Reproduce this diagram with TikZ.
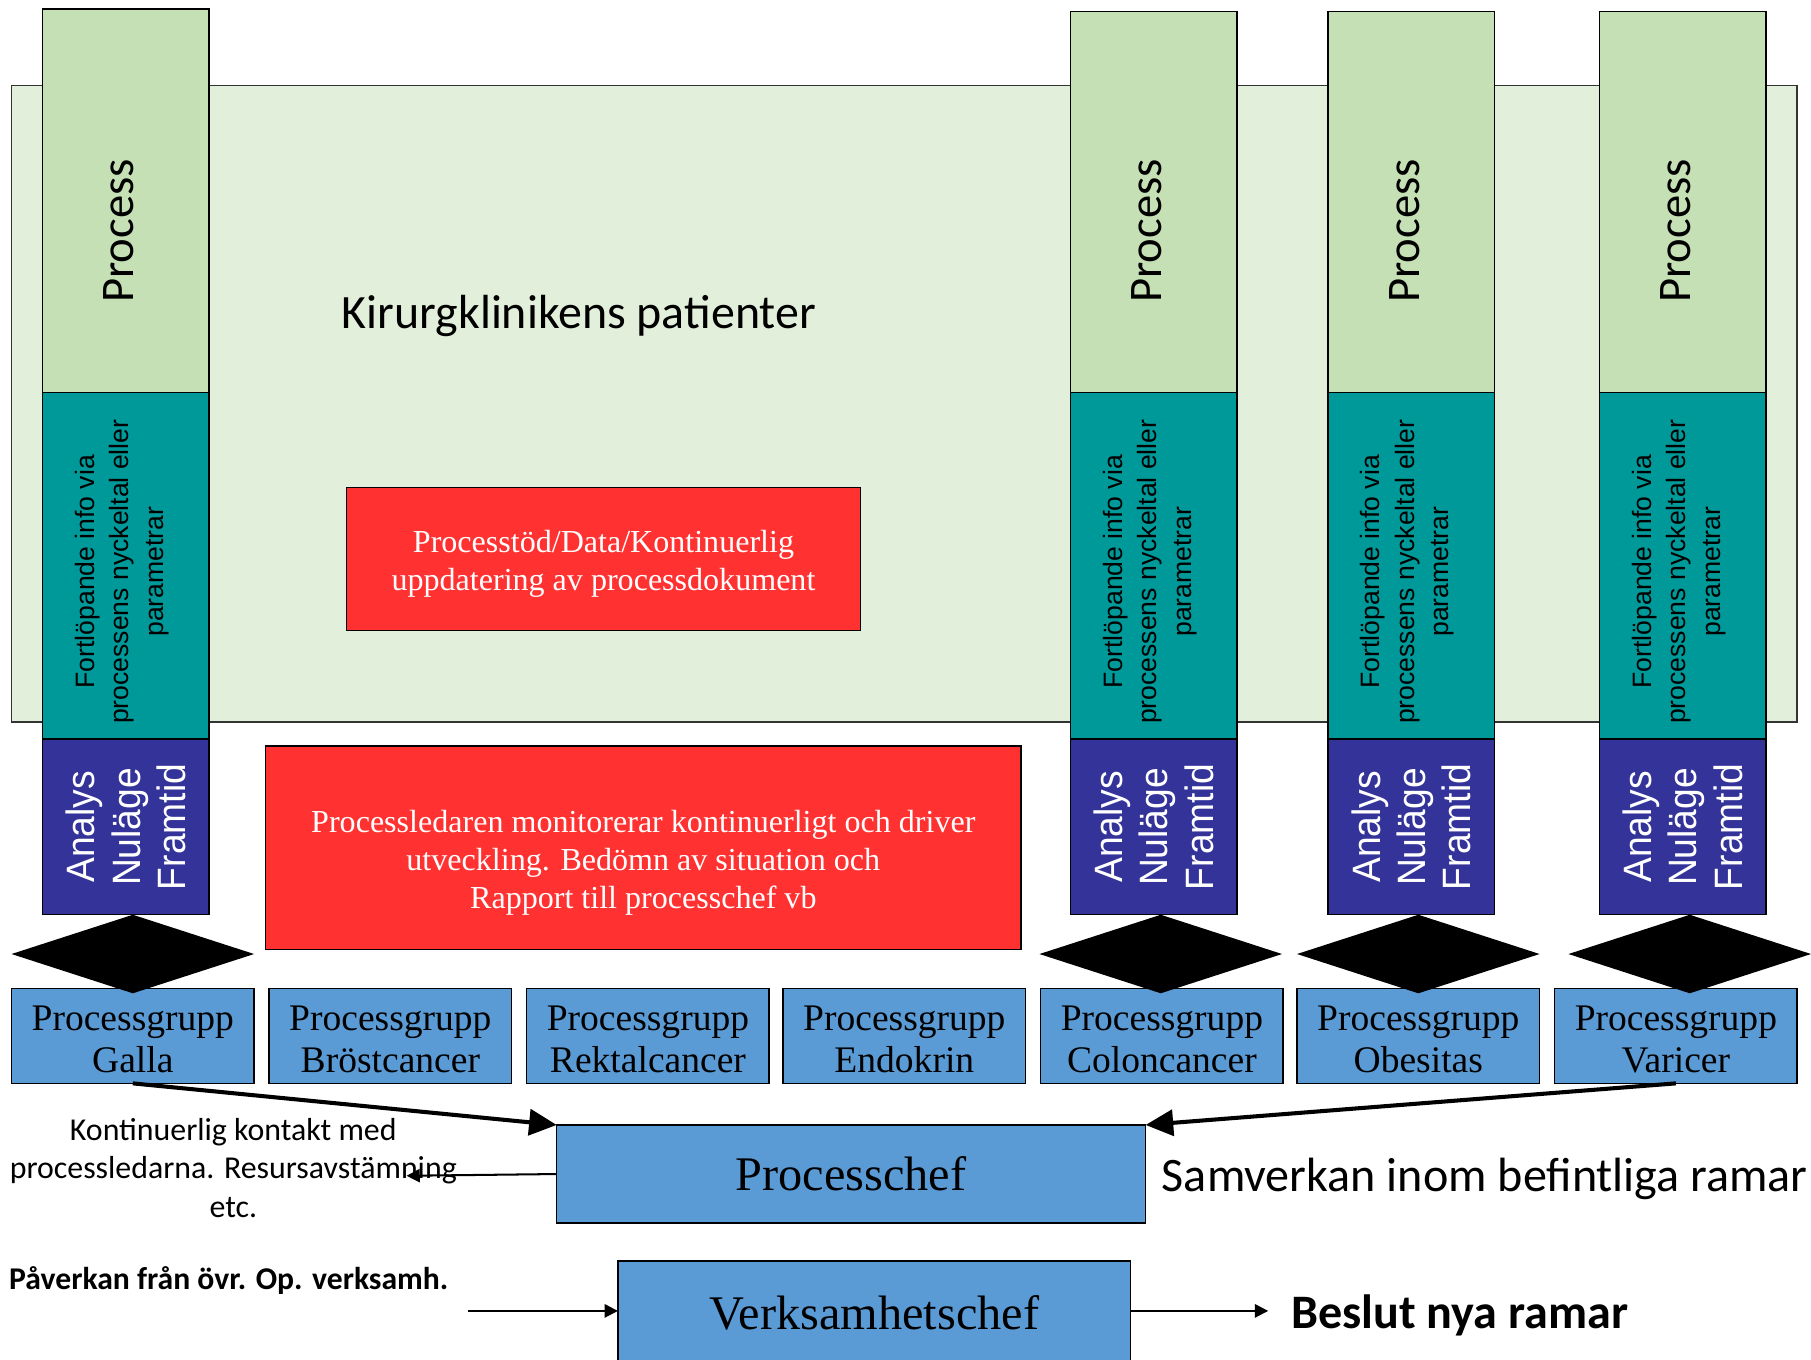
\documentclass[tikz,border=0pt]{standalone}
\usepackage{fontspec}
\setmainfont{Liberation Serif}
\newfontfamily\calfont{Carlito}
\newfontfamily\arifont{Liberation Sans}
\newfontfamily\arinarrow[FakeStretch=0.94]{Liberation Sans}
\usetikzlibrary{arrows.meta}
\definecolor{bgg}{HTML}{E2EFDA}
\definecolor{procg}{HTML}{C5E0B4}
\definecolor{tealc}{HTML}{009999}
\definecolor{navyc}{HTML}{333399}
\definecolor{redc}{HTML}{FF3131}
\definecolor{blueb}{HTML}{5B9BD5}
\begin{document}
\begin{tikzpicture}[x=0.02cm,y=-0.02cm,
  box/.style={draw=black, line width=0.75pt, inner sep=0pt, outer sep=0pt, anchor=north west},
  colw/.style={box, minimum width=2.88cm},
  grp/.style={box, fill=blueb, minimum width=4.2cm, minimum height=1.64cm},
  grptext/.style={plain, align=center, font=\fontsize{18.5}{21}\selectfont},
  redbox/.style={box, fill=redc},
  redtext/.style={plain, text=white, align=center, font=\fontsize{15.8}{18.8}\selectfont},
  chefbox/.style={box, fill=blueb, font=\fontsize{23.8}{28}\selectfont},
  proctext/.style={rotate=90, inner sep=0pt, font=\calfont\fontsize{23}{28}\selectfont},
  tealtext/.style={rotate=90, inner sep=0pt, align=center, font=\arifont\fontsize{13.1}{17}\selectfont},
  anatext/.style={rotate=90, inner sep=0pt, align=center, text=white, font=\arinarrow\fontsize{19.5}{22.2}\selectfont},
  thick arrow/.style={line width=2pt, -{Triangle[length=13.6pt,width=12.8pt]}},
  thin arrow/.style={line width=1pt, -{Triangle[length=6.5pt,width=6.5pt]}},
  plain/.style={inner sep=0pt, outer sep=0pt}
]
\useasboundingbox (0,0) rectangle (1568,1177);
\fill[white] (0,0) rectangle (1568,1177);

% background
\node[box, draw=black!80, fill=bgg, minimum width=30.92cm, minimum height=11.02cm] (bg) at (10,74) {};

% red box 1
\node[redbox, minimum width=8.9cm, minimum height=2.48cm] (red1) at (300,422) {};
\node[redtext] (red1t) at (522.5,488)
  {Processtöd/Data/Kontinuerlig\\uppdatering av processdokument};

% title
\node[plain, anchor=west, font=\calfont\fontsize{23.6}{28}\selectfont] (kir) at (296,274) {Kirurgklinikens patienter};

% columns
\foreach \x/\t/\h/\i in {37/8/6.64/1, 927/10/6.6/2, 1150/10/6.6/3, 1385/10/6.6/4}{
  \node[colw, fill=procg, minimum height=\h cm] (proc\i) at (\x,\t) {};
  \node[proctext] (proct\i) at (\x+66,200) {Process};
  \node[colw, fill=tealc, minimum height=6cm] (teal\i) at (\x,340) {};
  \node[tealtext] (tealt\i) at (\x+68.5,495) {Fortlöpande info via\\processens nyckeltal eller\\parametrar};
  \node[colw, fill=navyc, minimum height=3.04cm] (ana\i) at (\x,640) {};
  \node[anatext] (anat\i) at (\x+72,716) {Analys\\Nuläge\\Framtid};
}

% red box 2
\node[redbox, minimum width=13.08cm, minimum height=3.52cm] (red2) at (230,646) {};
\node[redtext] (red2t) at (557,747)
  {Processledaren monitorerar kontinuerligt och driver\\utveckling. Bedömn av situation och\\Rapport till processchef vb};

% process groups
\foreach \x/\lab/\i in {10/Galla/1, 233/Bröstcancer/2, 456/Rektalcancer/3, 678/Endokrin/4,
                        901/Coloncancer/5, 1123/Obesitas/6, 1346/Varicer/7}{
  \node[grp] (g\i) at (\x,856) {};
  \node[grptext] (gt\i) at (\x+105,900) {Processgrupp\\\lab};
}

% diamonds
\foreach \x in {37, 927, 1150, 1385}{
  \fill[black] (\x+78,792) -- (\x+183,826) -- (\x+78,860) -- (\x-27,826) -- cycle;
}

% chefs
\node[chefbox, minimum width=10.2cm, minimum height=1.7cm] (pc) at (482,974) {Processchef};
\node[chefbox, minimum width=8.88cm, minimum height=1.8cm] (vc) at (535,1092) {Verksamhetschef};

% side texts
\node[plain, align=center, font=\calfont\fontsize{15.7}{19}\selectfont] (kont) at (202,1011)
  {Kontinuerlig kontakt med\\processledarna. Resursavstämning\\etc.};
\node[plain, anchor=west, font=\calfont\fontsize{23.7}{28}\selectfont] (samv) at (1006,1021) {Samverkan inom befintliga ramar};
\node[plain, anchor=west, font=\calfont\bfseries\fontsize{15.6}{19}\selectfont] (pav) at (8,1109) {Påverkan från övr. Op. verksamh.};
\node[plain, anchor=west, font=\calfont\bfseries\fontsize{23.7}{28}\selectfont] (besl) at (1118,1139) {Beslut nya ramar};

\coordinate (kend) at (352,1018);
\coordinate (pin) at (405,1135);
\coordinate (pout) at (1098,1135);

% connectors
\draw[thick arrow] (g1.south) -- (pc.north west);
\draw[thick arrow] (g7.south) -- (pc.north east);
\draw[thin arrow] (pc.west) -- (kend);
\draw[thin arrow] (pin) -- (pin -| vc.west);
\draw[thin arrow] (vc.east |- pout) -- (pout);
\end{tikzpicture}
\end{document}
